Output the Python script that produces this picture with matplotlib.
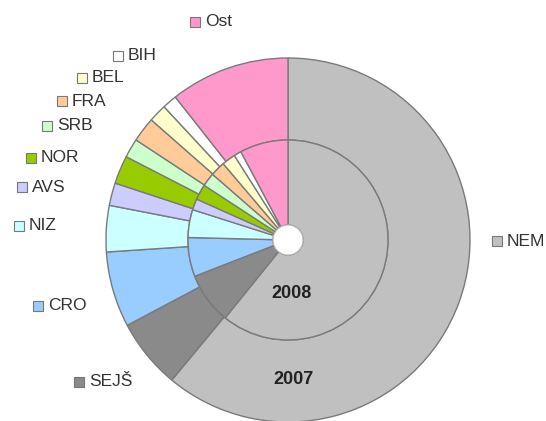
import matplotlib
matplotlib.use('Agg')
import matplotlib.pyplot as plt
from matplotlib.patches import Circle

plt.rcParams['font.family'] = ['Liberation Sans', 'DejaVu Sans']

# data (share in %, clockwise from 12 o'clock)
categories = ['NEM', 'SEJŠ', 'CRO', 'NIZ', 'AVS', 'NOR', 'SRB', 'FRA', 'BEL', 'BIH', 'Ost']
share_2007 = [60.9, 6.2, 6.7, 4.1, 2.0, 2.5, 1.7, 2.2, 1.6, 1.3, 10.6]
share_2008 = [60.8, 8.3, 6.3, 4.5, 1.8, 2.5, 2.2, 2.4, 2.2, 1.2, 7.8]
colors = ['#c0c0c0', '#8a8a8a', '#99ccff', '#ccffff', '#ccccff', '#99cc00',
          '#ccffcc', '#ffcc99', '#ffffcc', '#ffffff', '#ff99cc']

# legend entry positions (pixels, from top-left)
legend_xy = {'NEM': (497, 241), 'SEJŠ': (79, 382), 'CRO': (38, 306), 'NIZ': (19, 226),
             'AVS': (22, 187), 'NOR': (31, 158), 'SRB': (47, 126), 'FRA': (62, 101),
             'BEL': (82, 78), 'BIH': (118, 56), 'Ost': (195, 22)}

W, H = 546, 421
cx, cy = 288, H - 240
r_out, r_mid, r_hole = 182, 100, 15

fig = plt.figure(figsize=(W/100, H/100), dpi=100)
ax = fig.add_axes([0, 0, 1, 1])

edge = dict(edgecolor='#7a7a7a', linewidth=1)

# outer ring 2007
ax.pie(share_2007, colors=colors, radius=r_out, center=(cx, cy), startangle=90,
       counterclock=False, wedgeprops=dict(width=r_out - r_mid, **edge), frame=True)
# inner ring 2008
ax.pie(share_2008, colors=colors, radius=r_mid, center=(cx, cy), startangle=90,
       counterclock=False, wedgeprops=dict(width=r_mid - r_hole, **edge), frame=True)
ax.add_patch(Circle((cx, cy), r_hole, facecolor='white', edgecolor='#bbbbbb', lw=0.8, zorder=5))

ax.set_xlim(0, W)
ax.set_ylim(0, H)
ax.set_aspect('equal')
ax.axis('off')

ax.text(291, H - 293, '2008', ha='center', va='center', fontsize=13, fontweight='bold', color='#222222')
ax.text(293, H - 379, '2007', ha='center', va='center', fontsize=13, fontweight='bold', color='#222222')

for cat, col in zip(categories, colors):
    x, y = legend_xy[cat]
    ax.plot(x, H - y, marker='s', markersize=7, markerfacecolor=col,
            markeredgecolor='#777777', markeredgewidth=0.8, linestyle='none', clip_on=False)
    ax.text(x + 10, H - y, cat, ha='left', va='center', fontsize=12.5, color='#333333')

fig.savefig('out.png', dpi=100)
